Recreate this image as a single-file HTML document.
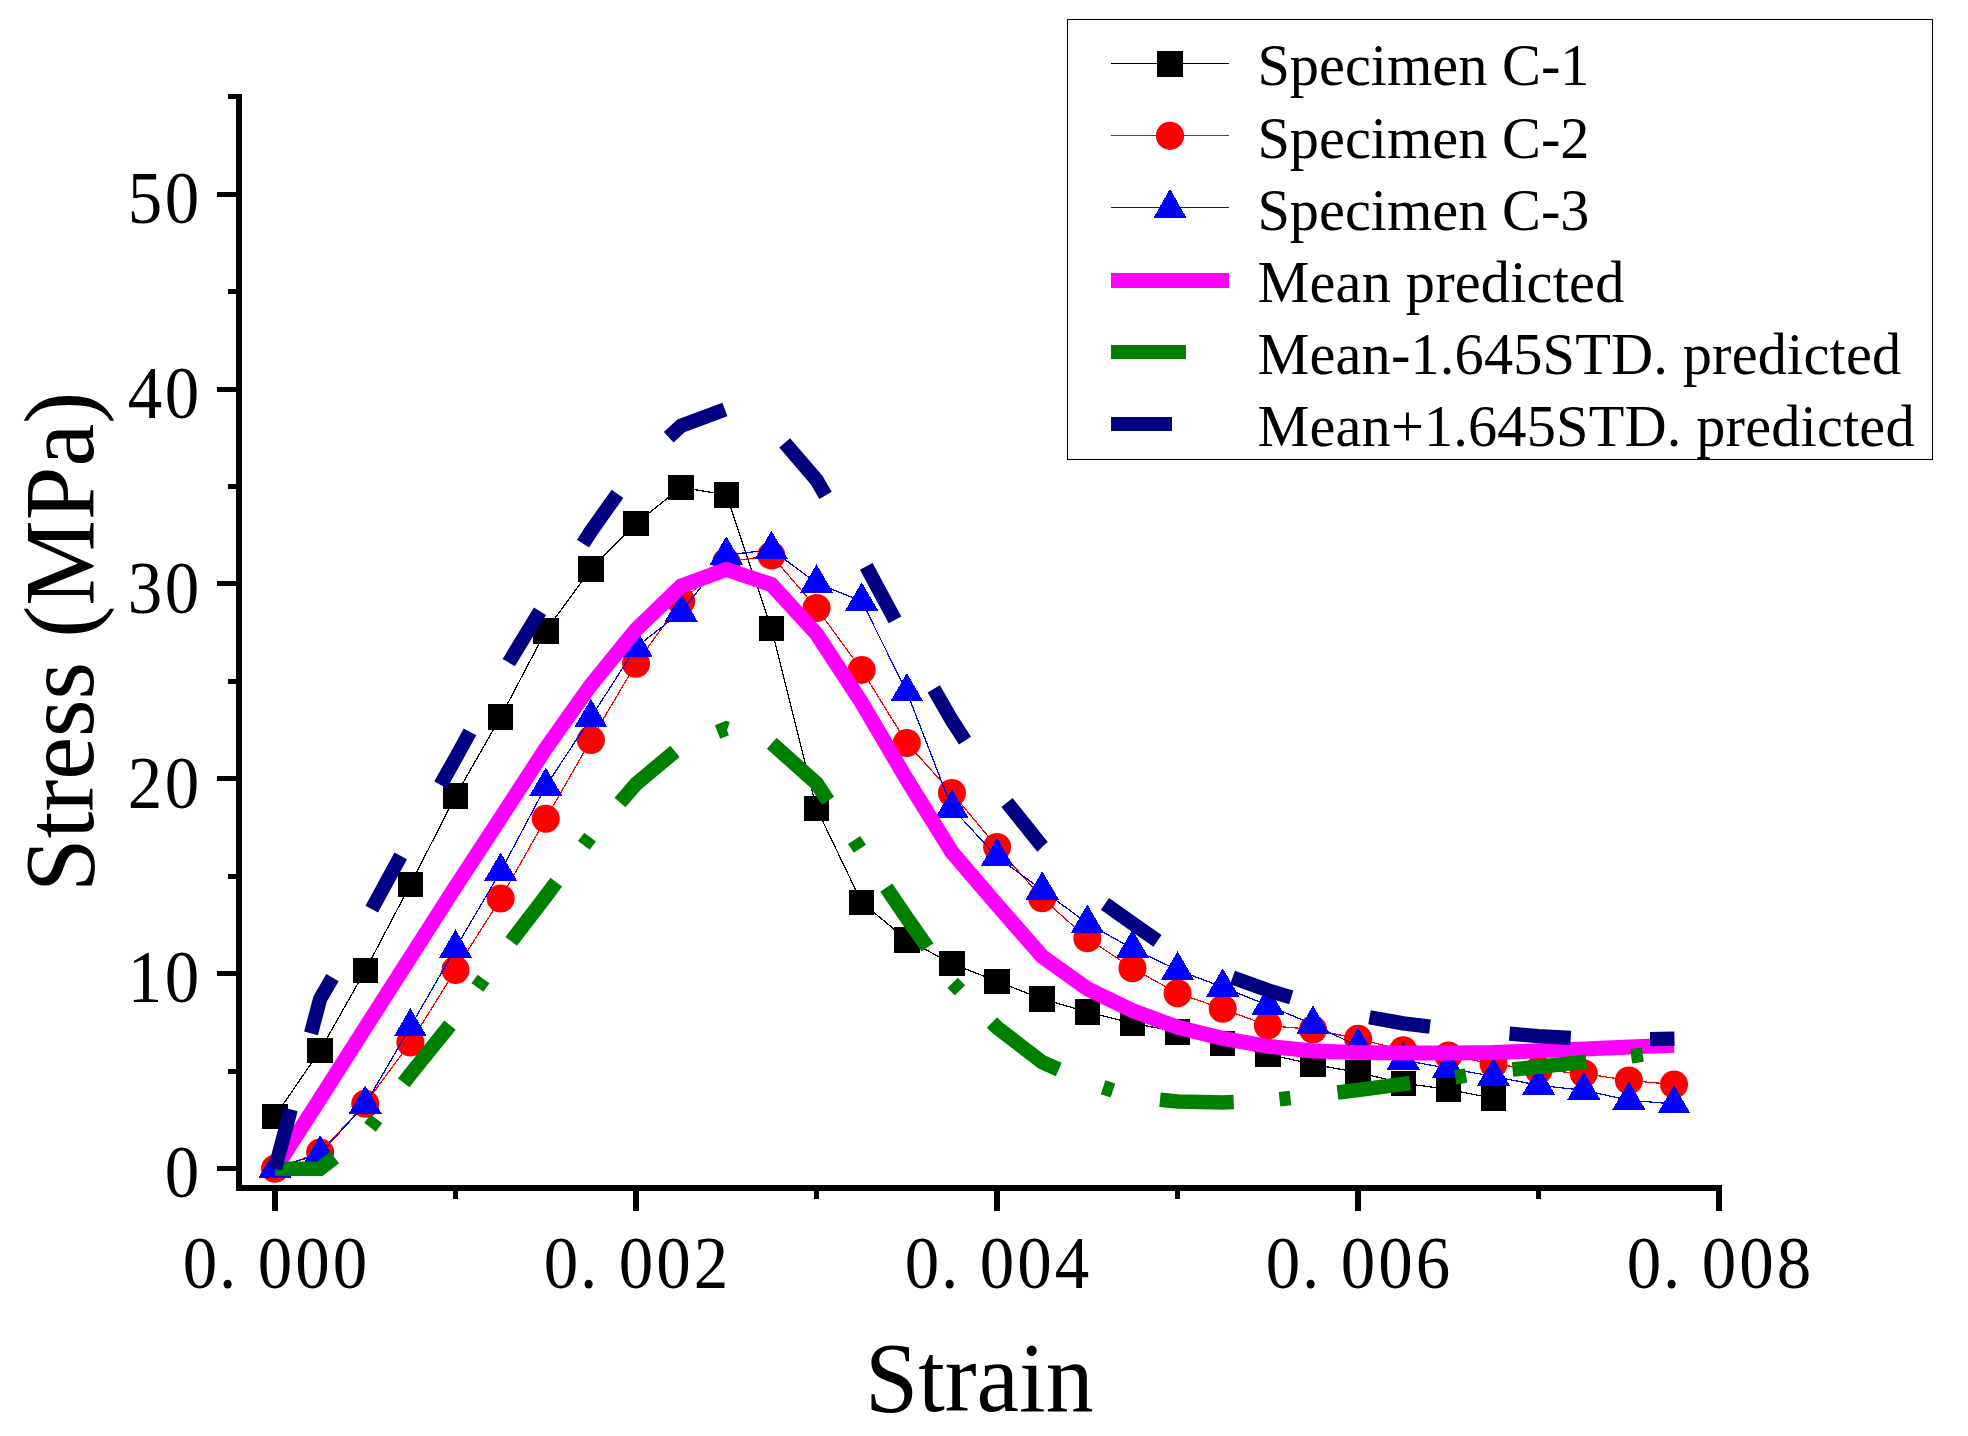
<!DOCTYPE html>
<html lang="en"><head><meta charset="utf-8"><title>Stress-Strain</title>
<style>html,body{margin:0;padding:0;background:#fff}svg{display:block}text{font-family:"Liberation Serif",serif;fill:#000}</style>
</head><body>
<svg width="1968" height="1436" viewBox="0 0 1968 1436">
<rect width="1968" height="1436" fill="#fff"/>
<g shape-rendering="crispEdges">
<polyline points="275.00,1116.25 320.13,1050.40 365.26,970.50 410.39,884.50 455.52,796.00 500.65,716.90 545.78,630.90 590.91,569.00 636.04,523.40 681.17,487.40 726.30,494.90 771.43,628.50 816.56,808.40 861.69,902.40 906.82,939.80 951.95,963.50 997.08,981.40 1042.21,999.00 1087.34,1011.90 1132.47,1023.30 1177.60,1031.80 1222.73,1043.25 1267.86,1054.25 1312.99,1064.25 1358.12,1072.50 1403.25,1083.30 1448.38,1089.30 1493.51,1098.40" fill="none" stroke="#000" stroke-width="1.25"/>
<rect x="262.25" y="1103.50" width="25.5" height="25.5" fill="#000"/>
<rect x="307.38" y="1037.65" width="25.5" height="25.5" fill="#000"/>
<rect x="352.51" y="957.75" width="25.5" height="25.5" fill="#000"/>
<rect x="397.64" y="871.75" width="25.5" height="25.5" fill="#000"/>
<rect x="442.77" y="783.25" width="25.5" height="25.5" fill="#000"/>
<rect x="487.90" y="704.15" width="25.5" height="25.5" fill="#000"/>
<rect x="533.03" y="618.15" width="25.5" height="25.5" fill="#000"/>
<rect x="578.16" y="556.25" width="25.5" height="25.5" fill="#000"/>
<rect x="623.29" y="510.65" width="25.5" height="25.5" fill="#000"/>
<rect x="668.42" y="474.65" width="25.5" height="25.5" fill="#000"/>
<rect x="713.55" y="482.15" width="25.5" height="25.5" fill="#000"/>
<rect x="758.68" y="615.75" width="25.5" height="25.5" fill="#000"/>
<rect x="803.81" y="795.65" width="25.5" height="25.5" fill="#000"/>
<rect x="848.94" y="889.65" width="25.5" height="25.5" fill="#000"/>
<rect x="894.07" y="927.05" width="25.5" height="25.5" fill="#000"/>
<rect x="939.20" y="950.75" width="25.5" height="25.5" fill="#000"/>
<rect x="984.33" y="968.65" width="25.5" height="25.5" fill="#000"/>
<rect x="1029.46" y="986.25" width="25.5" height="25.5" fill="#000"/>
<rect x="1074.59" y="999.15" width="25.5" height="25.5" fill="#000"/>
<rect x="1119.72" y="1010.55" width="25.5" height="25.5" fill="#000"/>
<rect x="1164.85" y="1019.05" width="25.5" height="25.5" fill="#000"/>
<rect x="1209.98" y="1030.50" width="25.5" height="25.5" fill="#000"/>
<rect x="1255.11" y="1041.50" width="25.5" height="25.5" fill="#000"/>
<rect x="1300.24" y="1051.50" width="25.5" height="25.5" fill="#000"/>
<rect x="1345.37" y="1059.75" width="25.5" height="25.5" fill="#000"/>
<rect x="1390.50" y="1070.55" width="25.5" height="25.5" fill="#000"/>
<rect x="1435.63" y="1076.55" width="25.5" height="25.5" fill="#000"/>
<rect x="1480.76" y="1085.65" width="25.5" height="25.5" fill="#000"/>
<polyline points="275.00,1168.75 320.13,1152.50 365.26,1103.75 410.39,1042.50 455.52,970.00 500.65,898.50 545.78,818.75 590.91,740.00 636.04,663.75 681.17,601.25 726.30,562.00 771.43,555.50 816.56,608.00 861.69,669.90 906.82,743.00 951.95,793.00 997.08,847.00 1042.21,898.25 1087.34,938.25 1132.47,968.25 1177.60,993.25 1222.73,1008.75 1267.86,1025.50 1312.99,1029.50 1358.12,1038.75 1403.25,1050.25 1448.38,1055.50 1493.51,1064.00 1538.64,1070.00 1583.77,1073.50 1628.90,1080.50 1674.03,1084.50" fill="none" stroke="#f00" stroke-width="1.25"/>
</g><g>
<circle cx="275.00" cy="1168.75" r="14.0" fill="#f00"/>
<circle cx="320.13" cy="1152.50" r="14.0" fill="#f00"/>
<circle cx="365.26" cy="1103.75" r="14.0" fill="#f00"/>
<circle cx="410.39" cy="1042.50" r="14.0" fill="#f00"/>
<circle cx="455.52" cy="970.00" r="14.0" fill="#f00"/>
<circle cx="500.65" cy="898.50" r="14.0" fill="#f00"/>
<circle cx="545.78" cy="818.75" r="14.0" fill="#f00"/>
<circle cx="590.91" cy="740.00" r="14.0" fill="#f00"/>
<circle cx="636.04" cy="663.75" r="14.0" fill="#f00"/>
<circle cx="681.17" cy="601.25" r="14.0" fill="#f00"/>
<circle cx="726.30" cy="562.00" r="14.0" fill="#f00"/>
<circle cx="771.43" cy="555.50" r="14.0" fill="#f00"/>
<circle cx="816.56" cy="608.00" r="14.0" fill="#f00"/>
<circle cx="861.69" cy="669.90" r="14.0" fill="#f00"/>
<circle cx="906.82" cy="743.00" r="14.0" fill="#f00"/>
<circle cx="951.95" cy="793.00" r="14.0" fill="#f00"/>
<circle cx="997.08" cy="847.00" r="14.0" fill="#f00"/>
<circle cx="1042.21" cy="898.25" r="14.0" fill="#f00"/>
<circle cx="1087.34" cy="938.25" r="14.0" fill="#f00"/>
<circle cx="1132.47" cy="968.25" r="14.0" fill="#f00"/>
<circle cx="1177.60" cy="993.25" r="14.0" fill="#f00"/>
<circle cx="1222.73" cy="1008.75" r="14.0" fill="#f00"/>
<circle cx="1267.86" cy="1025.50" r="14.0" fill="#f00"/>
<circle cx="1312.99" cy="1029.50" r="14.0" fill="#f00"/>
<circle cx="1358.12" cy="1038.75" r="14.0" fill="#f00"/>
<circle cx="1403.25" cy="1050.25" r="14.0" fill="#f00"/>
<circle cx="1448.38" cy="1055.50" r="14.0" fill="#f00"/>
<circle cx="1493.51" cy="1064.00" r="14.0" fill="#f00"/>
<circle cx="1538.64" cy="1070.00" r="14.0" fill="#f00"/>
<circle cx="1583.77" cy="1073.50" r="14.0" fill="#f00"/>
<circle cx="1628.90" cy="1080.50" r="14.0" fill="#f00"/>
<circle cx="1674.03" cy="1084.50" r="14.0" fill="#f00"/>
</g><g shape-rendering="crispEdges">
<polyline points="275.00,1168.35 320.13,1153.85 365.26,1104.35 410.39,1026.85 455.52,948.25 500.65,871.35 545.78,786.35 590.91,717.60 636.04,647.10 681.17,612.10 726.30,555.10 771.43,549.60 816.56,583.10 861.69,601.10 906.82,691.95 951.95,808.10 997.08,856.85 1042.21,890.10 1087.34,923.25 1132.47,948.55 1177.60,970.10 1222.73,987.10 1267.86,1005.35 1312.99,1024.35 1358.12,1046.35 1403.25,1060.10 1448.38,1068.35 1493.51,1076.35 1538.64,1085.35 1583.77,1090.25 1628.90,1100.25 1674.03,1103.95" fill="none" stroke="#00f" stroke-width="1.25"/>
<polygon points="275.00,1149.50 291.50,1177.80 258.50,1177.80" fill="#00f"/>
<polygon points="320.13,1135.00 336.63,1163.30 303.63,1163.30" fill="#00f"/>
<polygon points="365.26,1085.50 381.76,1113.80 348.76,1113.80" fill="#00f"/>
<polygon points="410.39,1008.00 426.89,1036.30 393.89,1036.30" fill="#00f"/>
<polygon points="455.52,929.40 472.02,957.70 439.02,957.70" fill="#00f"/>
<polygon points="500.65,852.50 517.15,880.80 484.15,880.80" fill="#00f"/>
<polygon points="545.78,767.50 562.28,795.80 529.28,795.80" fill="#00f"/>
<polygon points="590.91,698.75 607.41,727.05 574.41,727.05" fill="#00f"/>
<polygon points="636.04,628.25 652.54,656.55 619.54,656.55" fill="#00f"/>
<polygon points="681.17,593.25 697.67,621.55 664.67,621.55" fill="#00f"/>
<polygon points="726.30,536.25 742.80,564.55 709.80,564.55" fill="#00f"/>
<polygon points="771.43,530.75 787.93,559.05 754.93,559.05" fill="#00f"/>
<polygon points="816.56,564.25 833.06,592.55 800.06,592.55" fill="#00f"/>
<polygon points="861.69,582.25 878.19,610.55 845.19,610.55" fill="#00f"/>
<polygon points="906.82,673.10 923.32,701.40 890.32,701.40" fill="#00f"/>
<polygon points="951.95,789.25 968.45,817.55 935.45,817.55" fill="#00f"/>
<polygon points="997.08,838.00 1013.58,866.30 980.58,866.30" fill="#00f"/>
<polygon points="1042.21,871.25 1058.71,899.55 1025.71,899.55" fill="#00f"/>
<polygon points="1087.34,904.40 1103.84,932.70 1070.84,932.70" fill="#00f"/>
<polygon points="1132.47,929.70 1148.97,958.00 1115.97,958.00" fill="#00f"/>
<polygon points="1177.60,951.25 1194.10,979.55 1161.10,979.55" fill="#00f"/>
<polygon points="1222.73,968.25 1239.23,996.55 1206.23,996.55" fill="#00f"/>
<polygon points="1267.86,986.50 1284.36,1014.80 1251.36,1014.80" fill="#00f"/>
<polygon points="1312.99,1005.50 1329.49,1033.80 1296.49,1033.80" fill="#00f"/>
<polygon points="1358.12,1027.50 1374.62,1055.80 1341.62,1055.80" fill="#00f"/>
<polygon points="1403.25,1041.25 1419.75,1069.55 1386.75,1069.55" fill="#00f"/>
<polygon points="1448.38,1049.50 1464.88,1077.80 1431.88,1077.80" fill="#00f"/>
<polygon points="1493.51,1057.50 1510.01,1085.80 1477.01,1085.80" fill="#00f"/>
<polygon points="1538.64,1066.50 1555.14,1094.80 1522.14,1094.80" fill="#00f"/>
<polygon points="1583.77,1071.40 1600.27,1099.70 1567.27,1099.70" fill="#00f"/>
<polygon points="1628.90,1081.40 1645.40,1109.70 1612.40,1109.70" fill="#00f"/>
<polygon points="1674.03,1085.10 1690.53,1113.40 1657.53,1113.40" fill="#00f"/>
</g>
<g fill="none" stroke-linejoin="miter" stroke-linecap="butt">
<polyline points="275.00,1168.75 320.13,1098.60 365.26,1027.80 410.39,957.20 455.52,886.70 500.65,817.90 545.78,748.50 590.91,685.00 636.04,629.60 681.17,586.00 726.30,569.50 771.43,584.60 816.56,633.80 861.69,702.60 906.82,779.50 951.95,852.20 997.08,904.80 1042.21,956.50 1087.34,988.70 1132.47,1010.50 1177.60,1027.30 1222.73,1038.30 1267.86,1046.30 1312.99,1051.00 1358.12,1052.50 1403.25,1053.00 1448.38,1053.00 1493.51,1052.50 1538.64,1050.75 1583.77,1049.00 1628.90,1047.00 1674.03,1045.30" stroke="#f0f" stroke-width="15.0"/>
<polyline points="275.00,1168.75 320.13,1168.75 334.60,1157.45" stroke="#008000" stroke-width="14.6"/>
<polyline points="370.00,1127.27 376.40,1118.86" stroke="#008000" stroke-width="14.6"/>
<polyline points="403.75,1082.92 410.39,1074.20 450.00,1025.05" stroke="#008000" stroke-width="14.6"/>
<polyline points="477.45,987.59 483.55,979.07" stroke="#008000" stroke-width="14.6"/>
<polyline points="511.25,941.34 545.78,896.20 556.25,882.23" stroke="#008000" stroke-width="14.6"/>
<polyline points="583.85,845.42 590.15,837.01" stroke="#008000" stroke-width="14.6"/>
<polyline points="620.00,802.48 636.04,784.00 675.00,751.37" stroke="#008000" stroke-width="14.6"/>
<polyline points="717.50,731.95 726.30,728.50 727.50,728.89" stroke="#008000" stroke-width="14.6"/>
<polyline points="771.75,743.29 816.56,783.40 828.00,800.66" stroke="#008000" stroke-width="14.6"/>
<polyline points="854.10,840.05 859.90,848.80" stroke="#008000" stroke-width="14.6"/>
<polyline points="886.25,887.64 906.82,917.90 927.50,947.41" stroke="#008000" stroke-width="14.6"/>
<polyline points="952.60,982.95 959.90,990.28" stroke="#008000" stroke-width="14.6"/>
<polyline points="992.00,1022.50 997.08,1027.60 1042.21,1062.20 1058.75,1069.46" stroke="#008000" stroke-width="14.6"/>
<polyline points="1103.10,1087.24 1112.90,1090.50" stroke="#008000" stroke-width="14.6"/>
<polyline points="1160.00,1099.75 1177.60,1101.50 1222.73,1102.50 1233.75,1102.01" stroke="#008000" stroke-width="14.6"/>
<polyline points="1279.50,1099.21 1290.50,1097.99" stroke="#008000" stroke-width="14.6"/>
<polyline points="1337.50,1092.46 1358.12,1089.90 1403.25,1084.10 1410.00,1083.23" stroke="#008000" stroke-width="14.6"/>
<polyline points="1455.20,1077.27 1466.20,1075.61" stroke="#008000" stroke-width="14.6"/>
<polyline points="1512.50,1069.48 1538.64,1066.70 1583.77,1062.00 1586.50,1061.67" stroke="#008000" stroke-width="14.6"/>
<polyline points="1631.20,1056.17 1642.80,1054.50" stroke="#008000" stroke-width="14.6"/>
<polyline points="275.00,1168.75 290.80,1109.32" stroke="#000080" stroke-width="14.3"/>
<polyline points="311.00,1033.34 320.13,999.00 332.50,977.62" stroke="#000080" stroke-width="14.3"/>
<polyline points="371.75,909.09 400.75,855.89" stroke="#000080" stroke-width="14.3"/>
<polyline points="440.50,784.89 455.52,758.30 470.00,731.86" stroke="#000080" stroke-width="14.3"/>
<polyline points="508.75,662.60 540.00,611.29" stroke="#000080" stroke-width="14.3"/>
<polyline points="583.00,543.66 590.91,531.30 617.50,493.77" stroke="#000080" stroke-width="14.3"/>
<polyline points="668.70,437.35 681.17,425.80 724.90,409.52" stroke="#000080" stroke-width="14.3"/>
<polyline points="784.70,442.80 816.56,480.00 825.50,495.41" stroke="#000080" stroke-width="14.3"/>
<polyline points="866.25,566.31 895.00,619.95" stroke="#000080" stroke-width="14.3"/>
<polyline points="933.75,688.84 951.95,720.50 965.00,740.60" stroke="#000080" stroke-width="14.3"/>
<polyline points="1007.00,802.42 1042.21,846.50 1042.50,846.79" stroke="#000080" stroke-width="14.3"/>
<polyline points="1105.00,903.92 1132.47,923.40 1157.50,940.93" stroke="#000080" stroke-width="14.3"/>
<polyline points="1232.50,977.45 1267.86,990.30 1291.25,997.40" stroke="#000080" stroke-width="14.3"/>
<polyline points="1369.50,1017.19 1403.25,1023.40 1430.00,1026.72" stroke="#000080" stroke-width="14.3"/>
<polyline points="1509.50,1033.71 1538.64,1036.10 1570.75,1037.81" stroke="#000080" stroke-width="14.3"/>
<polyline points="1650.00,1039.04 1674.03,1038.75 1674.50,1038.74" stroke="#000080" stroke-width="14.3"/>
</g>
<g shape-rendering="crispEdges" fill="#000">
<rect x="236.06" y="93.94" width="6.04" height="1097"/>
<rect x="236.06" y="1185" width="1485.9" height="5.94"/>
<rect x="217.06" y="1166.00" width="20" height="5"/>
<rect x="227.97" y="1068.58" width="9" height="5"/>
<rect x="217.06" y="971.15" width="20" height="5"/>
<rect x="227.97" y="873.73" width="9" height="5"/>
<rect x="217.06" y="776.30" width="20" height="5"/>
<rect x="227.97" y="678.88" width="9" height="5"/>
<rect x="217.06" y="581.45" width="20" height="5"/>
<rect x="227.97" y="484.02" width="9" height="5"/>
<rect x="217.06" y="386.60" width="20" height="5"/>
<rect x="227.97" y="289.18" width="9" height="5"/>
<rect x="217.06" y="191.75" width="20" height="5"/>
<rect x="227.97" y="94.33" width="9" height="5"/>
<rect x="272.00" y="1190" width="6.0" height="20.9"/>
<rect x="453.00" y="1190" width="5" height="8.8"/>
<rect x="633.00" y="1190" width="6.0" height="20.9"/>
<rect x="814.00" y="1190" width="5" height="8.8"/>
<rect x="994.00" y="1190" width="6.0" height="20.9"/>
<rect x="1175.00" y="1190" width="5" height="8.8"/>
<rect x="1355.00" y="1190" width="6.0" height="20.9"/>
<rect x="1536.00" y="1190" width="5" height="8.8"/>
<rect x="1716.00" y="1190" width="6.0" height="20.9"/>
</g>
<g font-size="75" text-anchor="middle" transform="scale(0.92,1)">
<text x="197.83" y="1197.4">0</text>
<text x="157.61 197.83" y="1002.5">10</text>
<text x="157.61 197.83" y="807.7">20</text>
<text x="157.61 197.83" y="612.9">30</text>
<text x="157.61 197.83" y="418.0">40</text>
<text x="157.61 197.83" y="223.2">50</text>
<text x="217.39 247.50 298.91 339.67 380.43" y="1287.6">0.000</text>
<text x="609.78 639.89 691.30 732.07 772.83" y="1287.6">0.002</text>
<text x="1002.17 1032.28 1083.70 1124.46 1165.22" y="1287.6">0.004</text>
<text x="1394.57 1424.67 1476.09 1516.85 1557.61" y="1287.6">0.006</text>
<text x="1786.96 1817.07 1868.48 1909.24 1950.00" y="1287.6">0.008</text>
</g>
<text transform="translate(979.2,1411) scale(0.962,1)" font-size="99.5" text-anchor="middle">Strain</text>
<text transform="translate(93.2,641.9) rotate(-90) scale(0.968,1)" font-size="99.5" text-anchor="middle">Stress (MPa)</text>
<rect x="1067.5" y="19.5" width="865" height="440" fill="#fff" stroke="#000" stroke-width="1" shape-rendering="crispEdges"/>
<g shape-rendering="crispEdges">
<line x1="1111" x2="1229" y1="63.4" y2="63.4" stroke="#000" stroke-width="1.25"/>
<rect x="1157.0" y="50.8" width="26" height="26" fill="#000"/>
<line x1="1111" x2="1229" y1="135.6" y2="135.6" stroke="#f00" stroke-width="1.25"/>
<line x1="1111" x2="1229" y1="207.6" y2="207.6" stroke="#00f" stroke-width="1.25"/>
<polygon points="1170,188.7 1186.4,217.7 1153.6,217.7" fill="#00f"/>
<rect x="1111" y="272.5" width="118" height="15" fill="#f0f"/>
<rect x="1111" y="344.8" width="75" height="14.6" fill="#008000"/>
<rect x="1111" y="416.8" width="61" height="14.6" fill="#000080"/>
</g>
<circle cx="1170" cy="135.8" r="14.1" fill="#f00"/>
<g font-size="58.33">
<text x="1257.4" y="85.4">Specimen C-1</text>
<text x="1257.4" y="157.5">Specimen C-2</text>
<text x="1257.4" y="229.6">Specimen C-3</text>
<text x="1257.4" y="301.7" letter-spacing="0.2">Mean predicted</text>
<text x="1257.4" y="373.8" letter-spacing="0.17">Mean-1.645STD. predicted</text>
<text x="1257.4" y="445.9" letter-spacing="0.17">Mean+1.645STD. predicted</text>
</g>
</svg></body></html>
